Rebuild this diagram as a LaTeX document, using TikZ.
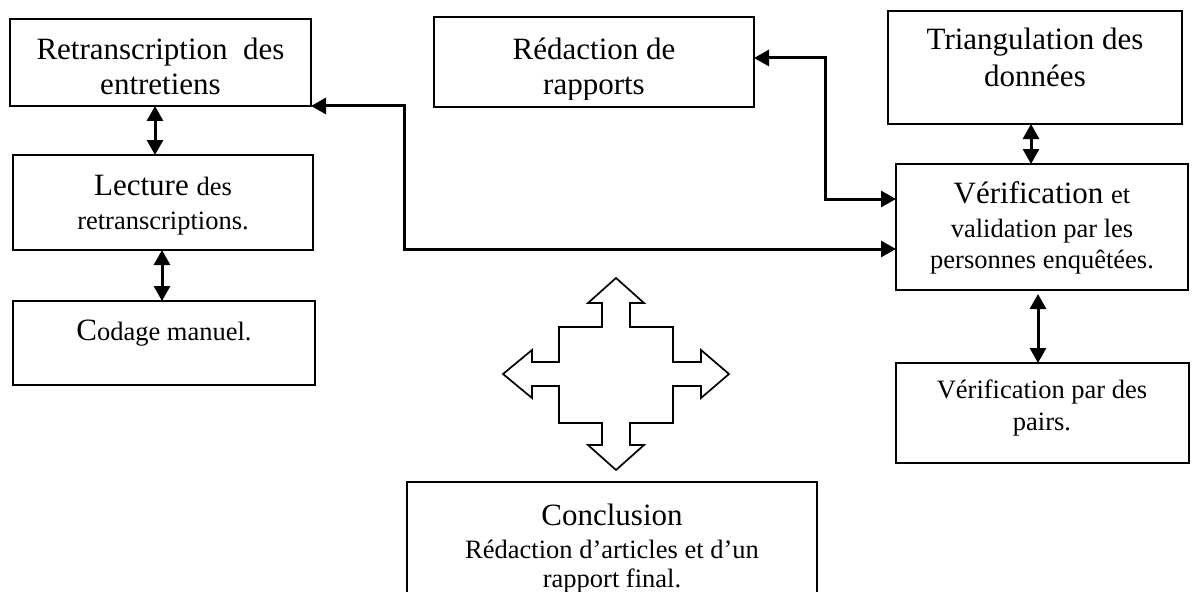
\documentclass[tikz,border=0pt]{standalone}
\usepackage{fontspec}
\setmainfont{Liberation Serif}
\usetikzlibrary{arrows.meta}
\newcommand\bigtxt{\fontsize{31}{36}\selectfont}
\newcommand\smtxt{\fontsize{26.5}{31}\selectfont}
\begin{document}
\begin{tikzpicture}[x=1pt,y=-1pt,
  boxnode/.style={draw,line width=2pt,inner sep=0pt,outer sep=0pt,anchor=north west},
  bigline/.style={font=\bigtxt,anchor=base,inner sep=0pt},
  smline/.style={font=\smtxt,anchor=base,inner sep=0pt},
  link/.style={line width=3pt,{Triangle[length=15pt,width=16pt]}-{Triangle[length=15pt,width=16pt]}},
  cross/.style={line width=1.7pt,line join=miter}]
\clip (0,0) rectangle (1198,591);
\useasboundingbox (0,0) rectangle (1198,591);

% boxes
\node[boxnode,minimum width=301pt,minimum height=87pt] (b1) at (10,19) {};
\node[boxnode,minimum width=300pt,minimum height=95pt] (b2) at (13,155) {};
\node[boxnode,minimum width=302pt,minimum height=84pt] (b3) at (13,301) {};
\node[boxnode,minimum width=320pt,minimum height=90pt] (b4) at (434,17) {};
\node[boxnode,minimum width=294pt,minimum height=113pt] (b5) at (888,11) {};
\node[boxnode,minimum width=292pt,minimum height=126pt] (b6) at (896,164) {};
\node[boxnode,minimum width=293pt,minimum height=100pt] (b7) at (896,363) {};
\node[boxnode,minimum width=410pt,minimum height=150pt] (b8) at (407,482) {};

% texts
\node[bigline] (t1a) at (160.5,60) {Retranscription\ \ des};
\node[bigline] (t1b) at (160.5,95) {entretiens};
\node[bigline] (t2a) at (163,195) {Lecture {\smtxt des}};
\node[smline] (t2b) at (163,229) {retranscriptions.};
\node[smline] (t3a) at (164,340) {{\bigtxt C}odage manuel.};
\node[bigline] (t4a) at (594,60) {Rédaction de};
\begin{scope}
\clip (434,17) rectangle (754,100);
\node[bigline] (t4b) at (594,95) {rapports};
\end{scope}
\node[bigline] (t5a) at (1035,50) {Triangulation des};
\node[bigline] (t5b) at (1035,87) {données};
\node[bigline] (t6a) at (1042,203) {Vérification {\smtxt et}};
\node[smline] (t6b) at (1042,237) {validation par les};
\node[smline] (t6c) at (1042,268) {personnes enquêtées.};
\node[smline] (t7a) at (1042,398) {Vérification par des};
\node[smline] (t7b) at (1042,430) {pairs.};
\node[bigline] (t8a) at (612,525) {Conclusion};
\node[smline] (t8b) at (612,558) {Rédaction d’articles et d’un};
\node[smline] (t8c) at (612,587) {rapport final.};

% connectors
\draw[link] ([xshift=-5.5pt]b1.south) -- ([xshift=-8pt]b2.north);
\draw[link] ([xshift=-1pt]b2.south) -- ([xshift=-2pt]b3.north);
\draw[link] ([xshift=-4pt]b5.south) -- ([xshift=-11pt]b6.north);
\draw[link] ([xshift=-4pt,yshift=-4pt]b6.south) -- ([xshift=-4.5pt]b7.north);
\draw[link] ([yshift=4pt]b4.east) -- ++(71,0) |- ([yshift=28pt]b6.west);
\draw[link] (b1.south east) -- ++(93,0) |- ([yshift=-22pt]b6.west);

% four-way arrow
\draw[cross] (616,278) -- (644,303) -- (630,303) -- (630,327) -- (673,327) -- (673,362)
  -- (701,362) -- (701,350) -- (729,374) -- (701,398) -- (701,386) -- (673,386)
  -- (673,423) -- (630,423) -- (630,445) -- (644,445) -- (616,470) -- (588,445)
  -- (602,445) -- (602,423) -- (559,423) -- (559,386) -- (532,386) -- (532,398)
  -- (503,374) -- (532,350) -- (532,362) -- (559,362) -- (559,327) -- (602,327)
  -- (602,303) -- (588,303) -- cycle;
\end{tikzpicture}
\end{document}
